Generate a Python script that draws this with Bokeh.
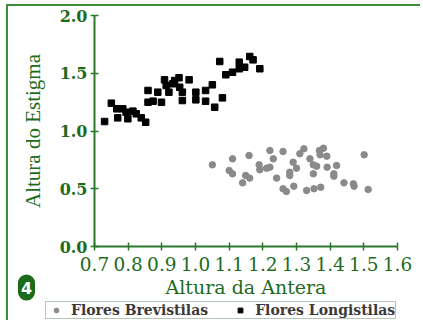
from bokeh.plotting import figure
from bokeh.models import Range1d, Legend, LegendItem, Label, FixedTicker, CustomJSTickFormatter
from bokeh.embed import file_html
from bokeh.resources import INLINE

# Flores Longistilas (black squares)
long_x = [0.730, 0.750, 0.769, 0.766, 0.784, 0.794, 0.799, 0.814, 0.824, 0.839, 0.852,
          0.859, 0.859, 0.874, 0.888, 0.899, 0.908, 0.913, 0.921, 0.933, 0.938, 0.951,
          0.953, 0.961, 0.961, 0.981, 1.001, 1.001, 1.030, 1.030, 1.050, 1.057, 1.080,
          1.072, 1.090, 1.110, 1.130, 1.130, 1.146, 1.161, 1.171, 1.191]
long_y = [1.082, 1.241, 1.114, 1.192, 1.192, 1.163, 1.106, 1.172, 1.149, 1.114, 1.076,
          1.351, 1.249, 1.258, 1.336, 1.249, 1.443, 1.394, 1.336, 1.409, 1.437, 1.461,
          1.379, 1.336, 1.264, 1.443, 1.336, 1.270, 1.258, 1.351, 1.400, 1.206, 1.287,
          1.602, 1.487, 1.509, 1.596, 1.539, 1.552, 1.645, 1.616, 1.539]

# Flores Brevistilas (gray circles)
brev_x = [1.050, 1.110, 1.100, 1.110, 1.140, 1.149, 1.161, 1.159, 1.189, 1.191, 1.211,
          1.221, 1.221, 1.231, 1.241, 1.260, 1.260, 1.270, 1.280, 1.280, 1.290, 1.292,
          1.300, 1.310, 1.322, 1.330, 1.340, 1.350, 1.350, 1.352, 1.360, 1.368, 1.370,
          1.372, 1.380, 1.390, 1.391, 1.411, 1.411, 1.419, 1.441, 1.469, 1.471, 1.501, 1.513]
brev_y = [0.707, 0.759, 0.658, 0.629, 0.551, 0.615, 0.592, 0.788, 0.707, 0.664, 0.678,
          0.687, 0.831, 0.759, 0.592, 0.823, 0.500, 0.476, 0.643, 0.615, 0.730, 0.522,
          0.678, 0.803, 0.846, 0.485, 0.759, 0.707, 0.629, 0.500, 0.695, 0.831, 0.794,
          0.513, 0.851, 0.782, 0.687, 0.629, 0.609, 0.701, 0.551, 0.543, 0.522, 0.794, 0.494]

x_ticks = [0.7, 0.8, 0.9, 1.0, 1.1, 1.2, 1.3, 1.4, 1.5, 1.6]
y_ticks = [0.0, 0.5, 1.0, 1.5, 2.0]
x_lo, x_hi = 0.7, 1.6
y_lo, y_hi = 0.0, 2.0

GREEN_TEXT = "#1e6b1e"
GREEN_LINE = "#2b7a2b"

# layout (pixels within the canvas): the plotting area covers the whole canvas,
# axes are pinned at x=0.7 / y=0 so that legend and badge can sit outside the axes
W, H = 414, 316
AX_L, AX_R = 86, 389      # canvas x of x_lo / x_hi
AX_T, AX_B = 9, 240       # canvas y of y_hi / y_lo
sx = (AX_R - AX_L) / (x_hi - x_lo)
sy = (AX_B - AX_T) / (y_hi - y_lo)
xr = Range1d(x_lo - AX_L / sx, x_hi + (W - AX_R) / sx)
yr = Range1d(y_lo - (H - AX_B) / sy, y_hi + AX_T / sy)

p = figure(width=W, height=H, output_backend="svg", toolbar_location=None,
           x_range=xr, y_range=yr,
           min_border_left=0, min_border_right=0, min_border_top=0, min_border_bottom=0)
p.outline_line_color = None
p.grid.visible = False
p.styles = {"margin-left": "6px", "margin-top": "4px",
            "border-left": "2px solid #3c8c3c", "border-top": "2px solid #3c8c3c"}

r_brev = p.scatter(brev_x, brev_y, marker="circle", size=6.5, color="#8a8a8a")
r_long = p.scatter(long_x, long_y, marker="square", size=6.5, color="#000000")

for ax in (p.xaxis[0], p.yaxis[0]):
    ax.axis_line_color = GREEN_LINE
    ax.axis_line_width = 2
    ax.major_tick_line_color = GREEN_LINE
    ax.major_tick_line_width = 1.5
    ax.major_tick_in = 4
    ax.major_tick_out = 4
    ax.minor_tick_line_color = None
    ax.major_label_text_color = GREEN_TEXT
    ax.axis_label_text_color = GREEN_TEXT
    ax.axis_label_text_font_style = "normal"

p.xaxis.fixed_location = y_lo
p.yaxis.fixed_location = x_lo
p.xaxis.bounds = (x_lo, x_hi)
p.yaxis.bounds = (y_lo, y_hi)
p.xaxis.ticker = FixedTicker(ticks=x_ticks)
p.yaxis.ticker = FixedTicker(ticks=y_ticks)
p.xaxis.formatter = CustomJSTickFormatter(code="return tick.toFixed(1);")
p.yaxis.formatter = CustomJSTickFormatter(code="return tick.toFixed(1);")

p.xaxis.axis_label = "Altura da Antera"
p.xaxis.axis_label_text_font = "DejaVu Serif"
p.xaxis.axis_label_text_font_size = "19px"
p.xaxis.major_label_text_font = "DejaVu Serif"
p.xaxis.major_label_text_font_size = "18.5px"
p.xaxis.major_label_standoff = 6
p.xaxis.axis_label_standoff = 2

p.yaxis.axis_label = "Altura do Estigma"
p.yaxis.axis_label_text_font = "Liberation Serif"
p.yaxis.axis_label_text_font_size = "21px"
p.yaxis.major_label_text_font = "DejaVu Serif"
p.yaxis.major_label_text_font_style = "bold"
p.yaxis.major_label_text_font_size = "16px"
p.yaxis.major_label_standoff = 3
p.yaxis.axis_label_standoff = 12

legend = Legend(items=[LegendItem(label="Flores Brevistilas", renderers=[r_brev]),
                       LegendItem(label="Flores Longistilas", renderers=[r_long])],
                orientation="horizontal", location=(37, 3), margin=0, padding=0,
                glyph_width=20, glyph_height=12, label_height=12, label_standoff=5,
                spacing=22, label_text_font="DejaVu Serif", label_text_font_style="bold",
                label_text_font_size="14px", label_text_color="#3a3a3a",
                border_line_color="#6f8f6f", border_line_width=1,
                background_fill_color="white", background_fill_alpha=1)
p.add_layout(legend, "center")

badge = Label(x=18, y=35, x_units="screen", y_units="screen", text="4",
              text_color="white", text_font="DejaVu Sans", text_font_style="bold",
              text_font_size="16px", text_align="center", text_baseline="middle",
              background_fill_color="#1b6b1b", border_radius=12, padding=(3, 7))
p.add_layout(badge)

open("out.html", "w").write(file_html(p, INLINE))
